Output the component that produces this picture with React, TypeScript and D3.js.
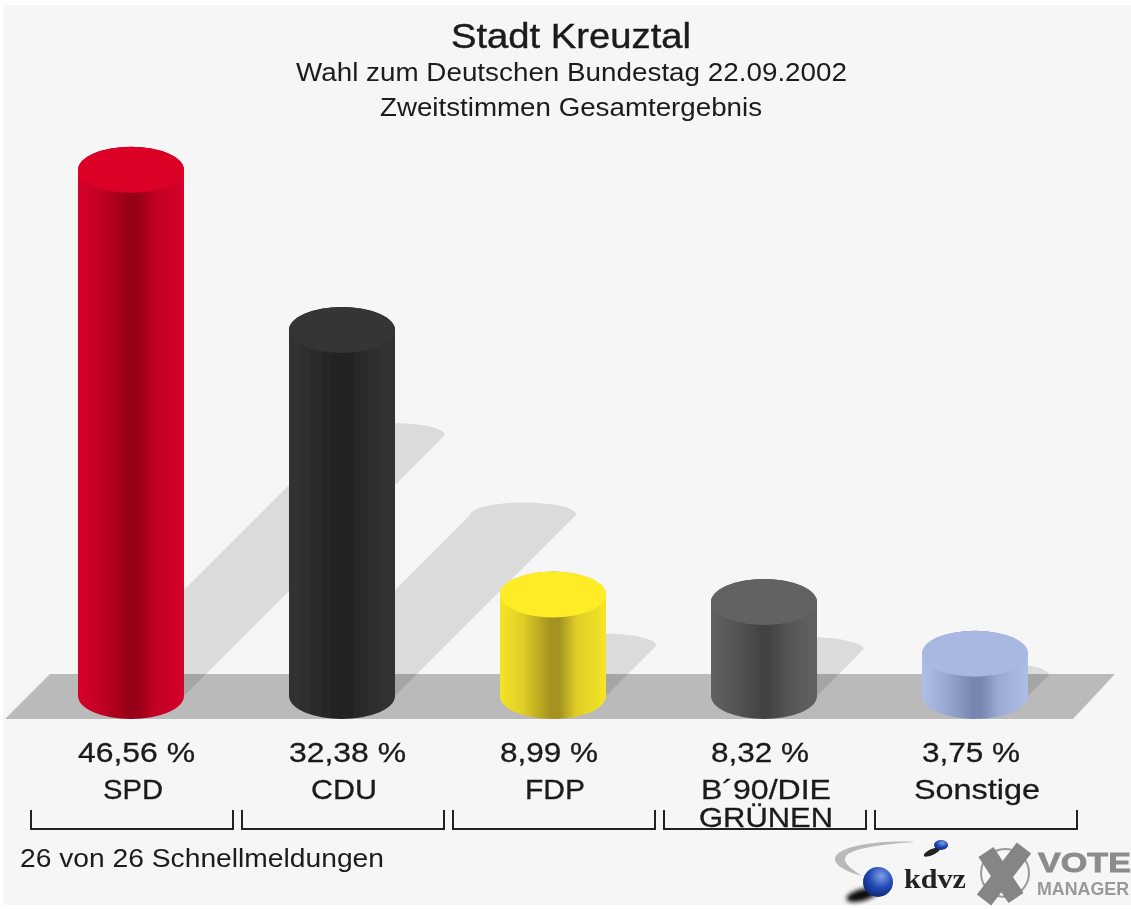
import * as d3 from "d3";
import React from "react";

const parties = ["SPD", "CDU", "FDP", "B´90/DIE GRÜNEN", "Sonstige"];
const values = [46.56, 32.38, 8.99, 8.32, 3.75];
const valueLabels = ["46,56 %", "32,38 %", "8,99 %", "8,32 %", "3,75 %"];
const partyLines = [["SPD"], ["CDU"], ["FDP"], ["B´90/DIE", "GRÜNEN"], ["Sonstige"]];
// edge, lobe, dark middle, cap
const edgeColors = ["#d6002a", "#333333", "#f6e526", "#616161", "#aebee8"];
const lobeColors = ["#c20025", "#2c2c2c", "#dfcd26", "#555555", "#9aaad4"];
const darkColors = ["#960016", "#212121", "#a49220", "#434343", "#7787b0"];
const capColors = ["#dc0028", "#343434", "#fdec26", "#626262", "#a8b8e3"];

// measured text widths, the reference is stretched sideways
const valueWidths = [117, 117, 98, 98, 98];
const lineWidths: Record<string, number> = {
  SPD: 60,
  CDU: 66,
  FDP: 60,
  "B´90/DIE": 130,
  GRÜNEN: 134,
  Sonstige: 126,
};

const width = 1131;
const height = 909;
const baseY = 696;
const ry = 23;
const shadowRy = 12;
const shadowRatio = 0.496;
const font = "'Liberation Sans', Arial, sans-serif";

const x = d3.scaleBand().domain(parties).range([78, 1028]).paddingInner(105 / 211);
const y = d3.scaleLinear().domain([0, 50]).range([baseY, baseY - 565]);
const barW = x.bandwidth();
const rx = barW / 2;

function cylinder(p: string, v: number) {
  const l = x(p)!;
  const r = l + barW;
  return `M${l},${y(v)} L${l},${baseY} A${rx},${ry} 0 0 0 ${r},${baseY} L${r},${y(v)} A${rx},${ry} 0 0 0 ${l},${y(v)} Z`;
}

function shadow(p: string, v: number) {
  const l = x(p)!;
  const r = l + barW;
  const d = (baseY - y(v)) * shadowRatio;
  return `M${l},${baseY} L${l + d},${baseY - d} A${rx},${shadowRy} 0 0 1 ${r + d},${baseY - d} L${r},${baseY} Z`;
}

function Label({ x: tx, y: ty, size, len, weight = 0.3, children }: any) {
  return (
    <text
      x={tx}
      y={ty}
      fontSize={size}
      textLength={len}
      lengthAdjust="spacingAndGlyphs"
      stroke="#1a1a1a"
      strokeWidth={weight}
    >
      {children}
    </text>
  );
}

export default function App() {
  return (
    <svg
      width={width}
      height={height}
      viewBox={`0 0 ${width} ${height}`}
      style={{ position: "absolute", left: 0, top: 0, fontFamily: font }}
    >
      <defs>
        {parties.map((p, i) => (
          <linearGradient key={p} id={`cyl${i}`} x1="0" x2="1" y1="0" y2="0">
            <stop offset="0" stopColor={edgeColors[i]} />
            <stop offset="0.22" stopColor={lobeColors[i]} />
            <stop offset="0.48" stopColor={darkColors[i]} />
            <stop offset="0.56" stopColor={darkColors[i]} />
            <stop offset="0.72" stopColor={lobeColors[i]} />
            <stop offset="1" stopColor={edgeColors[i]} />
          </linearGradient>
        ))}
        <radialGradient id="ballBig" cx="0.6" cy="0.3" r="0.8">
          <stop offset="0" stopColor="#7f9fe8" />
          <stop offset="0.5" stopColor="#2349b4" />
          <stop offset="1" stopColor="#0c2068" />
        </radialGradient>
        <filter id="soft" x="-5%" y="-5%" width="110%" height="110%">
          <feGaussianBlur stdDeviation="0.6" />
        </filter>
        <filter id="softer" x="-30%" y="-30%" width="160%" height="160%">
          <feGaussianBlur stdDeviation="2" />
        </filter>
      </defs>

      <rect width={width} height={height} fill="#ffffff" />
      <rect x={3} y={5} width={width - 3} height={height - 9} fill="#f6f6f6" />

      <path d="M50,674 L1115,674 L1073,719 L5,719 Z" fill="#bababa" />

      <g fill="#000000" fillOpacity={0.11}>
        {parties.map((p, i) => (
          <path key={p} d={shadow(p, values[i])} />
        ))}
      </g>

      <g filter="url(#soft)">
        {parties.map((p, i) => (
          <g key={p}>
            <path d={cylinder(p, values[i])} fill={`url(#cyl${i})`} />
            <ellipse cx={x(p)! + rx} cy={y(values[i])} rx={rx} ry={ry} fill={capColors[i]} />
          </g>
        ))}
      </g>

      <g filter="url(#soft)" fill="#1a1a1a">
        <Label x={451} y={48} size={35} len={240} weight={0.4}>Stadt Kreuztal</Label>
        <Label x={296} y={81} size={26} len={551} weight={0}>Wahl zum Deutschen Bundestag 22.09.2002</Label>
        <Label x={380} y={116} size={26} len={382} weight={0}>Zweitstimmen Gesamtergebnis</Label>

        {parties.map((p, i) => (
          <Label key={p} x={x(p)!} y={762} size={28} len={valueWidths[i]}>{valueLabels[i]}</Label>
        ))}
        {parties.map((p, i) =>
          partyLines[i].map((line, k) => (
            <Label
              key={line}
              x={x(p)! + rx + 2 - lineWidths[line] / 2}
              y={799 + k * 28}
              size={28}
              len={lineWidths[line]}
            >
              {line}
            </Label>
          ))
        )}
        <Label x={20} y={867} size={26} len={364} weight={0}>26 von 26 Schnellmeldungen</Label>
      </g>

      <g filter="url(#soft)" fill="none" stroke="#222222" strokeWidth={2}>
        {parties.map((p) => (
          <path key={p} d={`M${x(p)! - 47},810 V829 H${x(p)! + barW + 49} V810`} />
        ))}
      </g>

      {/* kdvz / vote manager logos */}
      <g filter="url(#soft)">
        <path d="M915,842 C880,840 838,846 835,858 C834,866 848,872 862,876 C850,868 842,862 846,856 C852,848 885,844 915,842 Z" fill="#b9b9b9" />
        <ellipse cx={932} cy={852} rx={9} ry={3} fill="#222222" transform="rotate(-25 932 852)" />
        <ellipse cx={941} cy={845} rx={7} ry={5} fill="url(#ballBig)" />
        <ellipse cx={862} cy={895} rx={16} ry={6} fill="#111111" filter="url(#softer)" transform="rotate(-15 862 895)" />
        <circle cx={878} cy={882} r={15} fill="url(#ballBig)" />
        <text x={904} y={888} fontSize={27} fontWeight="bold" fontFamily="'Liberation Serif', serif" fill="#222222" textLength={62} lengthAdjust="spacingAndGlyphs">kdvz</text>
        <circle cx={1005} cy={873} r={24} fill="none" stroke="#9a9a9a" strokeWidth={2} />
        <path d="M986,852 L1016,898 M1024,848 L984,900" stroke="#858585" strokeWidth={18} fill="none" />
        <text x={1038} y={872} fontSize={28} fontWeight="bold" fill="#8c8c8c" textLength={93} lengthAdjust="spacingAndGlyphs" stroke="#8c8c8c" strokeWidth={0.8}>VOTE</text>
        <text x={1037} y={895} fontSize={18} fontWeight="bold" fill="#999999" textLength={92} lengthAdjust="spacingAndGlyphs">MANAGER</text>
      </g>
    </svg>
  );
}
